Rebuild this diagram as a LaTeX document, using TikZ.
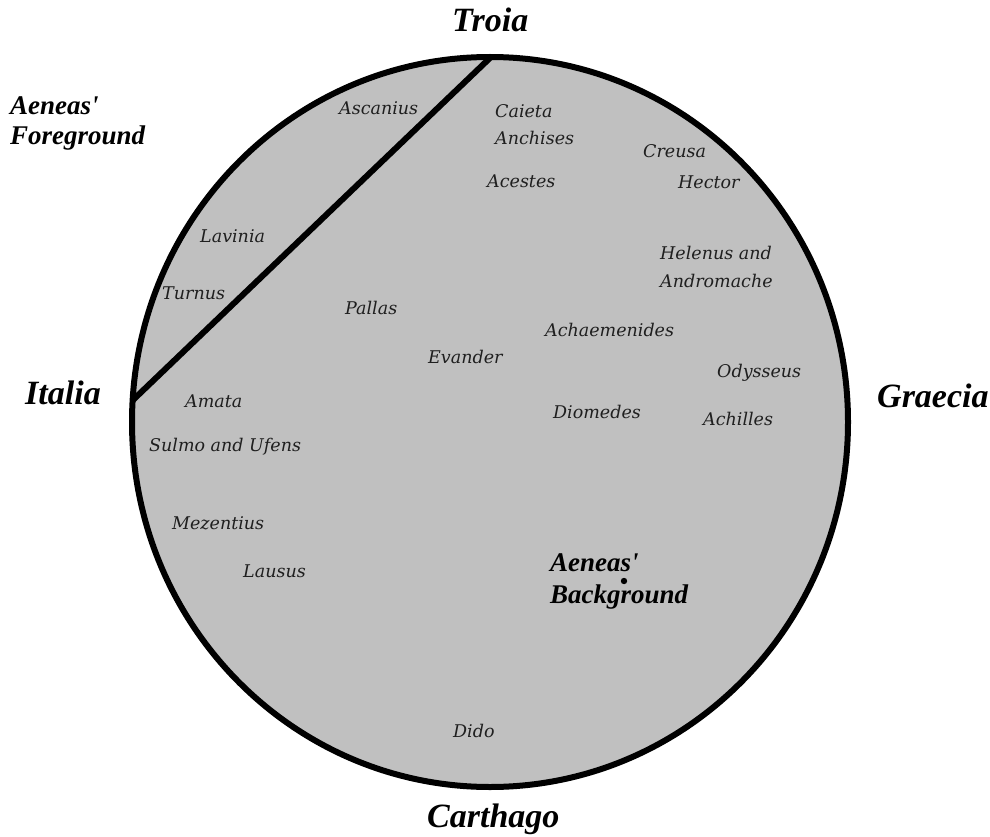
\documentclass[tikz,border=0pt]{standalone}
\usepackage{fontspec}
\setmainfont{Liberation Serif}
\newfontfamily\namefont{DejaVu Serif}
\definecolor{discgray}{RGB}{192,192,192}
\begin{document}
\begin{tikzpicture}[x=1pt,y=-1pt,
  nm/.style={inner sep=0pt, anchor=base west, text=black!88, font=\namefont\itshape\fontsize{17.5}{20}\selectfont},
  place/.style={inner sep=0pt, anchor=base west, font=\bfseries\itshape\fontsize{34}{40}\selectfont},
  sub/.style={inner sep=0pt, anchor=base west, font=\bfseries\itshape\fontsize{27}{31}\selectfont},
  rim/.style={line width=6pt}]
\useasboundingbox (0,0) rectangle (990,837);
% disc
\draw[rim, fill=discgray] (490,422) ellipse [x radius=358, y radius=365];
\coordinate (ctop) at (491,57);
\coordinate (cleft) at (133,400);
\draw[rim] (ctop) -- (cleft);
\fill (624,581) circle [radius=3.2];
% places
\node[place] (troia) at (452,32) {Troia};
\node[place] (italia) at (25,404) {Italia};
\node[place] (graecia) at (877,407) {Graecia};
\node[place] (carthago) at (427,827) {Carthago};
\node[sub] (fg1) at (10,115) {Aeneas\textquotesingle};
\node[sub] (fg2) at (10,145) {Foreground};
\node[sub] (bg1) at (550,571) {Aeneas\textquotesingle};
\node[sub] (bg2) at (550,603) {Background};
% names
\node[nm] (ascanius) at (339,115) {Ascanius};
\node[nm] (caieta) at (495,118) {Caieta};
\node[nm] (anchises) at (495,145) {Anchises};
\node[nm] (acestes) at (487,188) {Acestes};
\node[nm] (creusa) at (643,158) {Creusa};
\node[nm] (hector) at (678,189) {Hector};
\node[nm] (lavinia) at (200,242) {Lavinia};
\node[nm] (turnus) at (162,299) {Turnus};
\node[nm] (pallas) at (345,314) {Pallas};
\node[nm] (evander) at (428,363) {Evander};
\node[nm] (amata) at (185,407) {Amata};
\node[nm] (sulmo) at (149,451) {Sulmo and Ufens};
\node[nm] (helenus) at (660,259) {Helenus and};
\node[nm] (andromache) at (660,287) {Andromache};
\node[nm] (achaemenides) at (545,336) {Achaemenides};
\node[nm] (odysseus) at (717,377) {Odysseus};
\node[nm] (diomedes) at (553,418) {Diomedes};
\node[nm] (achilles) at (703,425) {Achilles};
\node[nm] (mezentius) at (172,529) {Mezentius};
\node[nm] (lausus) at (243,577) {Lausus};
\node[nm] (dido) at (453,737) {Dido};
\end{tikzpicture}
\end{document}
